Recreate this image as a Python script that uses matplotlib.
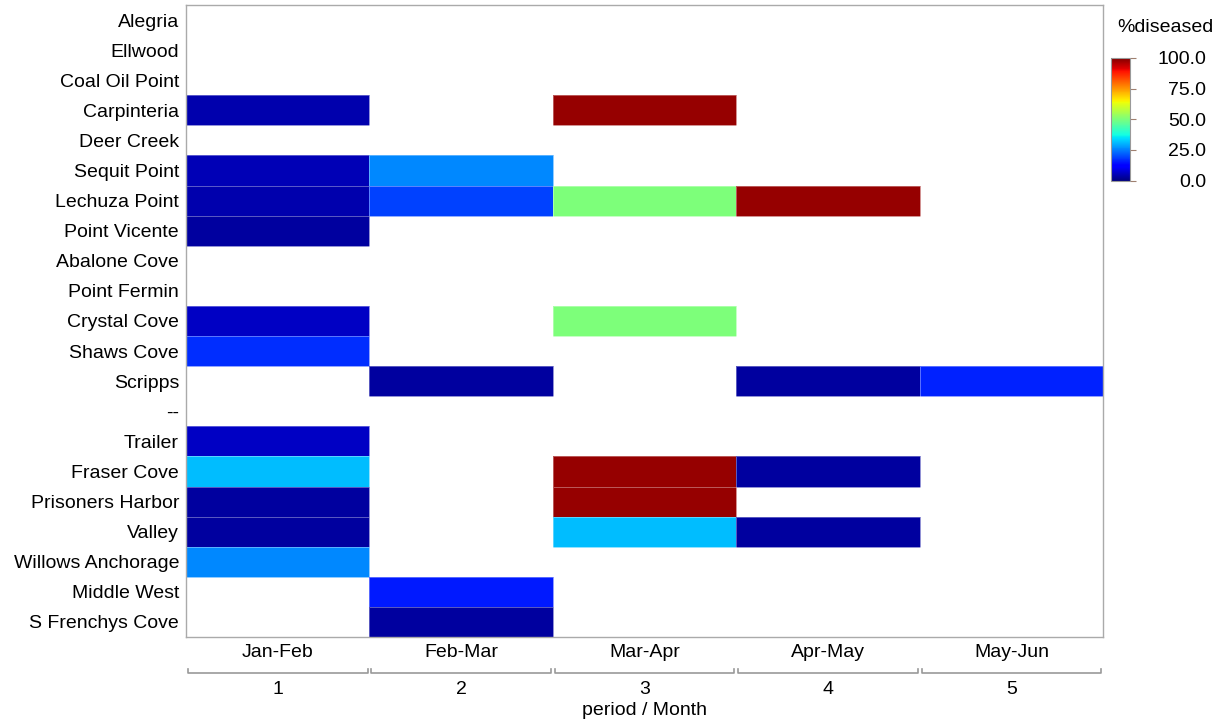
import numpy as np
import matplotlib.pyplot as plt
from matplotlib import transforms

plt.rcParams['font.family'] = ['Liberation Sans', 'DejaVu Sans']

sites = ["Alegria", "Ellwood", "Coal Oil Point", "Carpinteria", "Deer Creek",
         "Sequit Point", "Lechuza Point", "Point Vicente", "Abalone Cove",
         "Point Fermin", "Crystal Cove", "Shaws Cove", "Scripps", "--",
         "Trailer", "Fraser Cove", "Prisoners Harbor", "Valley",
         "Willows Anchorage", "Middle West", "S Frenchys Cove"]
months = ["Jan-Feb", "Feb-Mar", "Mar-Apr", "Apr-May", "May-Jun"]
periods = ["1", "2", "3", "4", "5"]

nan = np.nan
# %diseased per site (rows) and period (cols); NaN = no survey
diseased = np.array([
    [nan, nan, nan, nan, nan],   # Alegria
    [nan, nan, nan, nan, nan],   # Ellwood
    [nan, nan, nan, nan, nan],   # Coal Oil Point
    [4,   nan, 98,  nan, nan],   # Carpinteria
    [nan, nan, nan, nan, nan],   # Deer Creek
    [5,   26,  nan, nan, nan],   # Sequit Point
    [4,   19,  50,  98,  nan],   # Lechuza Point
    [3,   nan, nan, nan, nan],   # Point Vicente
    [nan, nan, nan, nan, nan],   # Abalone Cove
    [nan, nan, nan, nan, nan],   # Point Fermin
    [6,   nan, 50,  nan, nan],   # Crystal Cove
    [17,  nan, nan, nan, nan],   # Shaws Cove
    [nan, 3,   nan, 3,   16],    # Scripps
    [nan, nan, nan, nan, nan],   # --
    [6,   nan, nan, nan, nan],   # Trailer
    [31,  nan, 98,  3,   nan],   # Fraser Cove
    [3,   nan, 98,  nan, nan],   # Prisoners Harbor
    [3,   nan, 31,  3,   nan],   # Valley
    [26,  nan, nan, nan, nan],   # Willows Anchorage
    [nan, 15,  nan, nan, nan],   # Middle West
    [nan, 3,   nan, nan, nan],   # S Frenchys Cove
])

fs = 14

fig = plt.figure(figsize=(12.19, 7.25), dpi=100)
ax = fig.add_axes([0.1526, 0.1214, 0.7524, 0.8717])

nrow, ncol = diseased.shape
data = np.ma.masked_invalid(diseased)
mesh = ax.pcolormesh(np.arange(ncol + 1), np.arange(nrow + 1), data,
                     cmap="jet", vmin=0, vmax=100,
                     edgecolors=(1, 1, 1, 0.35), linewidth=0.6)
ax.set_xlim(0, ncol)
ax.set_ylim(nrow, 0)

ax.set_yticks(np.arange(nrow) + 0.5)
ax.set_yticklabels(sites, fontsize=fs)
ax.set_xticks(np.arange(ncol) + 0.5)
ax.set_xticklabels(months, fontsize=fs)
ax.tick_params(length=0, pad=5)
for s in ax.spines.values():
    s.set_color("#aaaaaa")
    s.set_linewidth(1)

# second level of x labels: brackets with period numbers
trans = transforms.blended_transform_factory(ax.transData, ax.transAxes)
yb, cap = -0.057, 0.007
for i, p in enumerate(periods):
    x0, x1 = i + 0.01, i + 0.99
    ax.plot([x0, x0, x1, x1], [yb + cap, yb, yb, yb + cap], color="#999999",
            lw=1.2, transform=trans, clip_on=False)
    ax.text(i + 0.5, yb - 0.012, p, transform=trans, ha="center", va="top",
            fontsize=fs)
ax.text(2.5, -0.103, "period / Month", transform=trans, ha="center",
        va="top", fontsize=fs)

cax = fig.add_axes([0.9113, 0.751, 0.0156, 0.169])
cb = fig.colorbar(mesh, cax=cax, ticks=[0, 25, 50, 75, 100], format="%.1f")
cb.outline.set_edgecolor("#999999")
cb.ax.tick_params(labelsize=fs, color="#a08070", length=4, pad=51)
for lbl in cb.ax.get_yticklabels():
    lbl.set_horizontalalignment("right")
fig.text(0.956, 0.962, "%diseased", ha="center", va="center", fontsize=fs)

fig.savefig("out.png", dpi=100)
